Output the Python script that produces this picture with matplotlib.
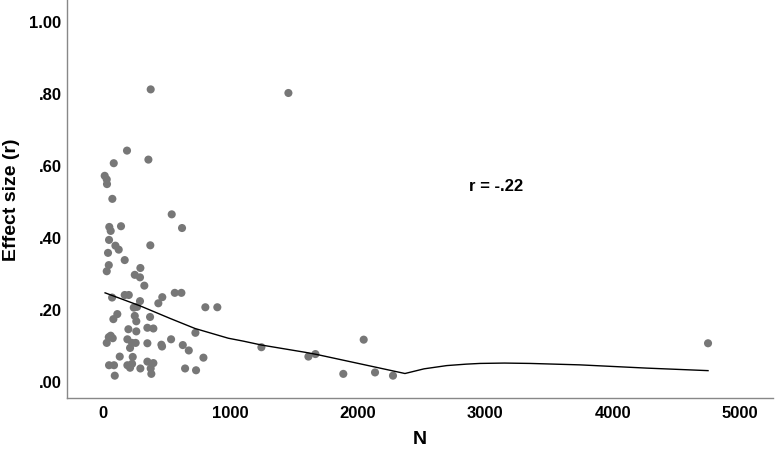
import matplotlib
matplotlib.use("Agg")
import matplotlib.pyplot as plt

# Sample size (N) and effect size (r) for each study
n_values = [374, 1455, 188, 356, 84, 13, 29, 31, 73, 539, 49, 141, 60, 620, 47,
            97, 123, 371, 39, 170, 45, 29, 293, 249, 290, 324, 563, 615, 71, 170,
            202, 465, 290, 434, 241, 267, 803, 897, 112, 81, 249, 369, 261, 348, 395,
            199, 261, 725, 60, 45, 76, 29, 191, 228, 256, 348, 534, 458, 463, 626,
            673, 212, 131, 233, 788, 47, 86, 191, 228, 212, 293, 348, 395, 374, 379,
            644, 730, 92, 1243, 1612, 1667, 2046, 1886, 2135, 2276, 4749]
r_values = [.81, .80, .64, .615, .605, .57, .56, .547, .506, .463, .428, .43, .417, .425, .392,
            .376, .365, .377, .356, .336, .322, .305, .314, .295, .288, .265, .245, .245, .232, .239,
            .239, .233, .222, .216, .204, .206, .205, .205, .186, .172, .181, .178, .166, .148, .146,
            .144, .138, .134, .126, .122, .119, .106, .116, .106, .106, .105, .116, .101, .096, .100,
            .085, .092, .068, .067, .065, .044, .044, .044, .048, .037, .035, .054, .050, .035, .020,
            .035, .030, .015, .094, .068, .075, .115, .020, .024, .015, .105]

# Loess fit line
fit_n = [16, 290, 526, 722, 983, 1100, 1245, 1585, 1676, 2174, 2370, 2520, 2698, 2850, 2959, 3150,
         3352, 3744, 4268, 4749]
fit_r = [.245, .209, .174, .146, .119, .111, .100, .080, .074, .036, .021, .034, .043, .047, .049, .050,
         .049, .045, .036, .029]

x_ticks = [0, 1000, 2000, 3000, 4000, 5000]
y_ticks = [0.0, 0.2, 0.4, 0.6, 0.8, 1.0]
y_tick_labels = [".00", ".20", ".40", ".60", ".80", "1.00"]

plt.rcParams['font.family'] = ['Liberation Sans', 'DejaVu Sans']

fig = plt.figure(figsize=(7.75, 4.52), dpi=100)
ax = fig.add_axes([67/775, 53/452, (773-67)/775, 399/452])

ax.scatter(n_values, r_values, s=34, color='#777777', edgecolors='none', zorder=3)
ax.plot(fit_n, fit_r, color='black', linewidth=1.0, zorder=4)

ax.set_xlim(-283, 5259)
ax.set_ylim(-0.047, 1.061)
ax.set_xticks(x_ticks)
ax.set_xticklabels([str(t) for t in x_ticks], fontsize=12, fontweight='bold')
ax.set_yticks(y_ticks)
ax.set_yticklabels(y_tick_labels, fontsize=12, fontweight='bold')
ax.tick_params(axis='both', length=0)
ax.tick_params(axis='x', pad=5)
ax.tick_params(axis='y', pad=4)

for s in ['top', 'right']:
    ax.spines[s].set_visible(False)
for s in ['left', 'bottom']:
    ax.spines[s].set_color('#888888')
    ax.spines[s].set_linewidth(1.0)

ax.set_xlabel("N", fontsize=14, fontweight='bold', labelpad=7)
ax.set_ylabel("Effect size (r)", fontsize=14, fontweight='bold')
ax.yaxis.set_label_coords(-0.066, 0.5)

ax.text(3085, 0.544, "r = -.22", fontsize=12, fontweight='bold', ha='center', va='center')

fig.savefig("out.png", dpi=100)
